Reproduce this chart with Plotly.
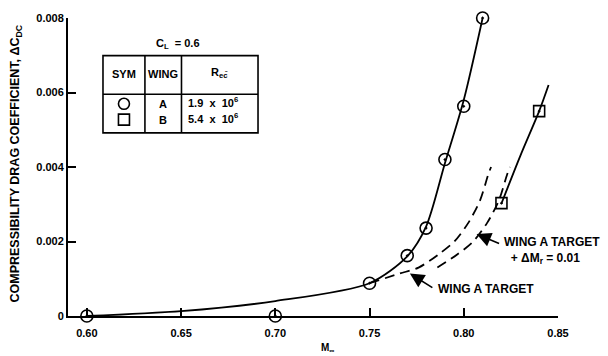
import plotly.graph_objects as go

# ---- data ----
mach_a = [0.60, 0.70, 0.75, 0.77, 0.78, 0.79, 0.80, 0.81]
cd_a = [0.0, 0.0, 0.00088, 0.00162, 0.00236, 0.0042, 0.00563, 0.0080]
mach_b = [0.82, 0.84]
cd_b = [0.00303, 0.0055]

fair_a_m = [0.60, 0.65, 0.70, 0.75, 0.77, 0.78, 0.79, 0.80, 0.81]
fair_a_cd = [0.0, 0.00013, 0.0004, 0.00088, 0.0016, 0.0024, 0.0041, 0.0058, 0.0080]
fair_b_m = [0.82, 0.83, 0.84, 0.845]
fair_b_cd = [0.00302, 0.0043, 0.0055, 0.0062]

target_m = [0.75, 0.766, 0.776, 0.7865, 0.795, 0.8024, 0.8086, 0.813, 0.8145]
target_cd = [0.00088, 0.00114, 0.0013, 0.00165, 0.0020, 0.0025, 0.0031, 0.0038, 0.0040]
target2_m = [0.786, 0.7965, 0.805, 0.8124, 0.8186, 0.823, 0.8245]
target2_cd = [0.0013, 0.00165, 0.0020, 0.0025, 0.0031, 0.0038, 0.0040]

x_ticks = [0.60, 0.65, 0.70, 0.75, 0.80, 0.85]
x_ticklabels = ["0.60", "0.65", "0.70", "0.75", "0.80", "0.85"]
y_ticks = [0, 0.002, 0.004, 0.006, 0.008]
y_ticklabels = ["0", "0.002", "0.004", "0.006", "0.008"]

table_header = ["SYM", "WING", "R<sub>e</sub><sub>c̄</sub>"]
table_wing = ["A", "B"]
table_re = ["1.9 &nbsp;x &nbsp;10<sup>6</sup>", "5.4 &nbsp;x &nbsp;10<sup>6</sup>"]
table_symbols = ["circle-open", "square-open"]

XR = [0.59, 0.85]
YR = [0.0, 0.008]
FONT = "Liberation Sans, Arial, sans-serif"

fig = go.Figure()

line_style = dict(color="black", width=1.8, shape="spline", smoothing=0.8)
fig.add_trace(go.Scatter(x=fair_a_m, y=fair_a_cd, mode="lines", line=line_style, hoverinfo="skip"))
fig.add_trace(go.Scatter(x=fair_b_m, y=fair_b_cd, mode="lines", line=line_style, hoverinfo="skip"))
dash_style = dict(color="black", width=1.8, dash="10px,6px", shape="spline", smoothing=0.8)
fig.add_trace(go.Scatter(x=target_m, y=target_cd, mode="lines", line=dash_style, hoverinfo="skip"))
fig.add_trace(go.Scatter(x=target2_m, y=target2_cd, mode="lines", line=dash_style, hoverinfo="skip"))

fig.add_trace(go.Scatter(x=mach_a, y=cd_a, mode="markers", cliponaxis=False,
                         marker=dict(symbol="circle-open-dot", size=12, color="black",
                                     line=dict(color="black", width=1.6))))
fig.add_trace(go.Scatter(x=mach_b, y=cd_b, mode="markers", cliponaxis=False,
                         marker=dict(symbol="square-open-dot", size=11, color="black",
                                     line=dict(color="black", width=1.6))))

def px2x(fx):
    return XR[0] + fx * (XR[1] - XR[0])

def py2y(fy):
    return YR[0] + fy * (YR[1] - YR[0])

# table geometry (paper coords)
tl, c1, c2, tr = 0.0714, 0.157, 0.2316, 0.3878
tt, th, tb = 0.8738, 0.7442, 0.6146
row_y = [0.712, 0.659]
shapes = []
ln = dict(color="black", width=1.6)
shapes.append(dict(type="rect", xref="paper", yref="paper", x0=tl, x1=tr, y0=tb, y1=tt, line=ln))
shapes.append(dict(type="line", xref="paper", yref="paper", x0=c1, x1=c1, y0=tb, y1=tt, line=ln))
shapes.append(dict(type="line", xref="paper", yref="paper", x0=c2, x1=c2, y0=tb, y1=tt, line=ln))
shapes.append(dict(type="line", xref="paper", yref="paper", x0=tl, x1=tr, y0=th, y1=th, line=ln))

sym_x = (tl + c1) / 2
for s, ry in zip(table_symbols, row_y):
    fig.add_trace(go.Scatter(x=[px2x(sym_x)], y=[py2y(ry)], mode="markers", cliponaxis=False,
                             marker=dict(symbol=s, size=11, color="black", line=dict(width=1.6))))

ann = []
tf = dict(family=FONT, size=11, color="black", weight="bold")
lf = dict(family=FONT, size=12, color="black", weight="bold")
hy = 0.8106
ann.append(dict(x=(tl + c1) / 2, y=hy, text=table_header[0]))
ann.append(dict(x=(c1 + c2) / 2, y=hy, text=table_header[1]))
ann.append(dict(x=(c2 + tr) / 2, y=hy + 0.005, text=table_header[2]))
for w, r, ry in zip(table_wing, table_re, row_y):
    ann.append(dict(x=(c1 + c2) / 2, y=ry, text=w))
    ann.append(dict(x=c2 + 0.01, y=ry + 0.006, text=r, xanchor="left"))
ann.append(dict(x=0.225, y=0.912, text="C<sub>L</sub>  = 0.6"))
for a in ann:
    a.update(xref="paper", yref="paper", showarrow=False, font=tf, yanchor="middle")
    a.setdefault("xanchor", "center")

# labels with arrows
ann.append(dict(x=0.7714, y=0.00114, xref="x", yref="y", text="", showarrow=True,
                ax=24, ay=15, arrowhead=2, arrowsize=1.8, arrowwidth=1.6, arrowcolor="black"))
ann.append(dict(x=(436 - 68) / 490, y=(316 - 288.5) / 301, xref="paper", yref="paper",
                text="WING A TARGET", showarrow=False, xanchor="left", yanchor="middle", font=lf))
ann.append(dict(x=0.8068, y=0.0022, xref="x", yref="y", text="", showarrow=True,
                ax=24, ay=10, arrowhead=2, arrowsize=1.8, arrowwidth=1.6, arrowcolor="black"))
ann.append(dict(x=(502 - 68) / 490, y=(316 - 250) / 301, xref="paper", yref="paper",
                text="WING A TARGET<br>&nbsp;&nbsp;+ ΔM<sub>r</sub> = 0.01", align="left",
                showarrow=False, xanchor="left", yanchor="middle", font=lf))
# axis titles
ann.append(dict(x=(16.5 - 68) / 490, y=0.51, xref="paper", yref="paper", textangle=-90,
                text="COMPRESSIBILITY DRAG COEFFICIENT, ΔC<sub>D</sub><sub>C</sub>",
                showarrow=False, xanchor="center", yanchor="middle",
                font=dict(family=FONT, size=12.5, color="black", weight="bold")))
ann.append(dict(x=(327 - 68) / 490, y=(316 - 348) / 301, xref="paper", yref="paper",
                text="M<sub>∞</sub>", showarrow=False, xanchor="center", yanchor="middle",
                font=dict(family=FONT, size=10, color="black", weight="bold")))

fig.update_layout(
    width=608, height=356,
    margin=dict(l=68, r=50, t=15, b=40),
    paper_bgcolor="white", plot_bgcolor="white",
    showlegend=False,
    shapes=shapes, annotations=ann,
    font=dict(family=FONT, color="black"),
)
fig.update_xaxes(range=XR, tickvals=x_ticks, ticktext=x_ticklabels, showgrid=False, zeroline=False,
                 showline=True, linecolor="black", linewidth=2, ticks="inside", ticklen=8,
                 tickwidth=1.6, tickcolor="black", ticklabelstandoff=6,
                 tickfont=dict(family=FONT, size=11, color="black", weight="bold"))
fig.update_yaxes(range=YR, tickvals=y_ticks, ticktext=y_ticklabels, showgrid=False, zeroline=False,
                 showline=True, linecolor="black", linewidth=2, ticks="inside", ticklen=8,
                 tickwidth=1.6, tickcolor="black",
                 tickfont=dict(family=FONT, size=11, color="black", weight="bold"))

fig.write_html("out.html")
